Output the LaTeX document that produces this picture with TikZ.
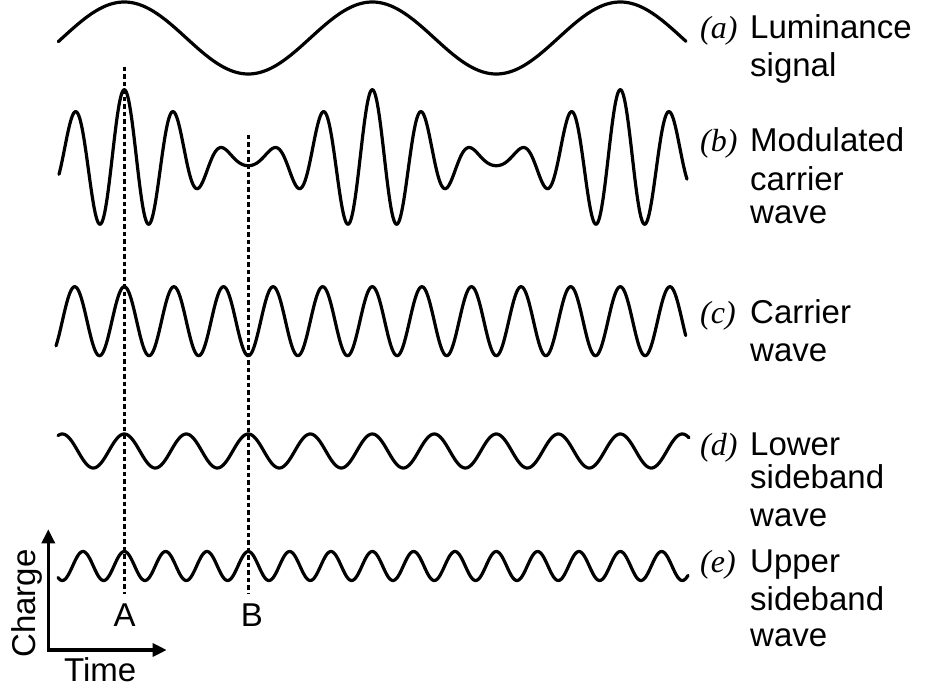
\documentclass[tikz,border=0pt]{standalone}
\usepackage{fontspec}
\setmainfont{Liberation Sans}
\newfontfamily\tmsfont{Liberation Serif}
\usetikzlibrary{arrows.meta}
\begin{document}
\begin{tikzpicture}[x=1pt,y=-1pt,
  wave/.style={line width=3.2pt, line join=round, line cap=round},
  guide/.style={line width=3pt, dash pattern=on 4.5pt off 3pt},
  lab/.style={font=\fontsize{33}{38}\selectfont, inner sep=0pt, anchor=base west},
  tag/.style={font=\fontsize{32}{38}\selectfont\tmsfont\itshape, inner sep=0pt, anchor=base west},
  axisline/.style={line width=3.2pt, {Triangle[length=14pt,width=13pt]}-{Triangle[length=14pt,width=13pt]}}]
\useasboundingbox (0,0) rectangle (925,692);
% (a) luminance signal
\draw[wave] plot[domain=58.3:686, samples=300] (\x, {38-36*cos((\x-124.3)/248*360)});
% (b) modulated carrier
\draw[wave] plot[domain=59:687, samples=900] (\x, {160-38*(1+0.85*cos((\x-124.3)/248*360))*cos((\x-124.3)/49.6*360)});
% (c) carrier
\draw[wave] plot[domain=56:685.7, samples=700] (\x, {321.2-34.5*cos((\x-124.3)/49.6*360)});
% (d) lower sideband
\draw[wave] plot[domain=58:689, samples=600] (\x, {451-17*cos((\x-124.3)/62*360)});
% (e) upper sideband
\draw[wave] plot[domain=58:688, samples=700] (\x, {566-14.5*cos((\x-124.3)/41.333*360)});
% guides
\coordinate (Atop) at (124.3,66.7);
\coordinate (Abot) at (124.3,594);
\coordinate (Btop) at (248.3,135);
\coordinate (Bbot) at (248.3,593);
\draw[guide] (Atop) -- (Abot);
\draw[guide] (Btop) -- (Bbot);
\node[lab, anchor=base] (Alab) at (124.7,626.7) {A};
\node[lab, anchor=base] (Blab) at (251.8,626.7) {B};
% axes
\coordinate (ytip) at (48.3,529.3);
\coordinate (orig) at (48.3,650);
\coordinate (xtip) at (166.7,650);
\draw[axisline] (ytip) -- (orig) -- (xtip);
\node[lab] (time) at (64,681.7) {Time};
\node[lab, rotate=90] (charge) at (35.3,658) {Charge};
% labels
\node[tag] (ta) at (700,38.3) {(a)};
\node[lab] (a1) at (750,38.3) {Luminance};
\node[lab] (a2) at (750,76.7) {signal};
\node[tag] (tb) at (700,151.7) {(b)};
\node[lab] (b1) at (750,151.7) {Modulated};
\node[lab] (b2) at (750,190.7) {carrier};
\node[lab] (b3) at (750,224) {wave};
\node[tag] (tc) at (700,323.3) {(c)};
\node[lab] (c1) at (750,323.3) {Carrier};
\node[lab] (c2) at (750,361.7) {wave};
\node[tag] (td) at (700,455) {(d)};
\node[lab] (d1) at (750,455) {Lower};
\node[lab] (d2) at (750,488.3) {sideband};
\node[lab] (d3) at (750,526.7) {wave};
\node[tag] (te) at (700,572.7) {(e)};
\node[lab] (e1) at (750,572.7) {Upper};
\node[lab] (e2) at (750,610) {sideband};
\node[lab] (e3) at (750,646.5) {wave};
\end{tikzpicture}
\end{document}
